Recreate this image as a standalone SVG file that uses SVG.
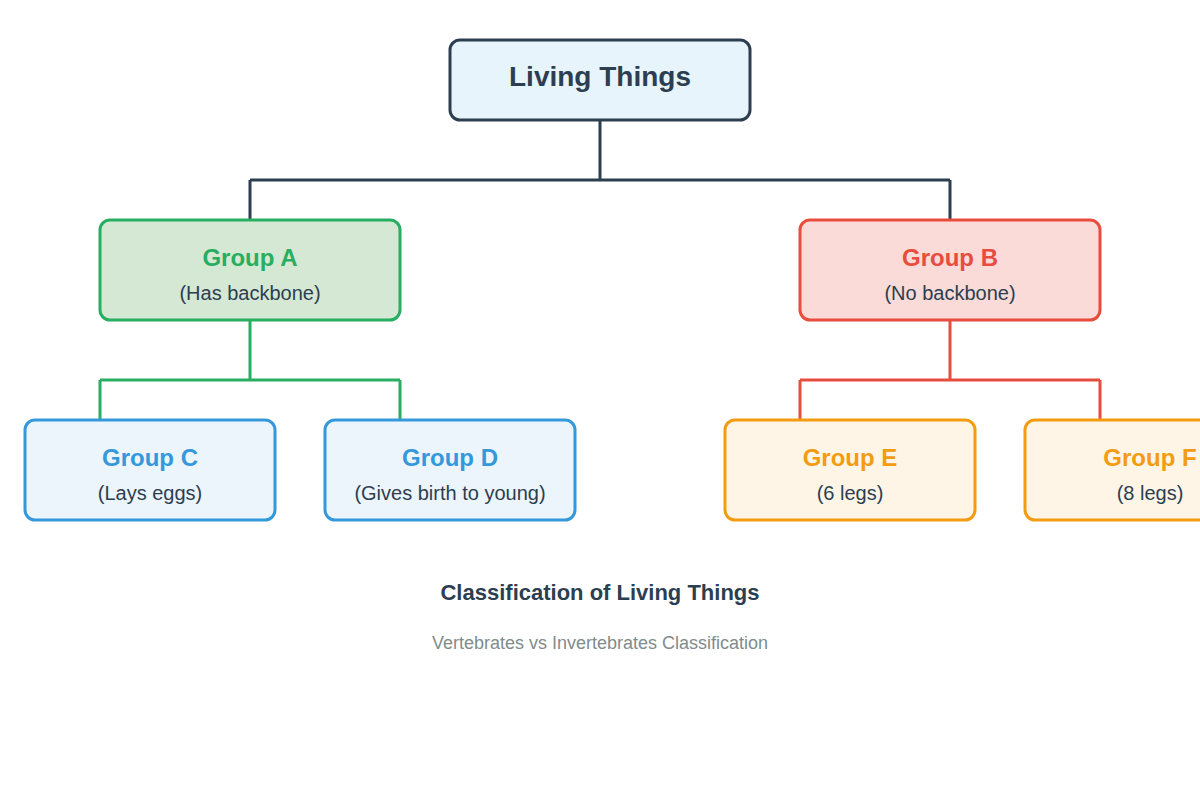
<svg xmlns="http://www.w3.org/2000/svg" width="1200" height="800" viewBox="0 0 1200 800">
<style>
text{font-family:"Liberation Sans",Arial,sans-serif;text-anchor:middle}
.box{stroke-width:3}
.t1{font-size:28px;font-weight:bold;fill:#2c3e50}
.t2{font-size:24px;font-weight:bold}
.sub{font-size:20px;fill:#2c3e50}
.conn{fill:none;stroke-width:3}
</style>
<rect width="1200" height="800" fill="#ffffff"/>
<g id="connectors">
<path class="conn" stroke="#2c3e50" d="M600 120V180M250 180H950M250 180V220M950 180V220"/>
<path class="conn" stroke="#27ae60" d="M250 320V380M100 380H400M100 380V420M400 380V420"/>
<path class="conn" stroke="#e74c3c" d="M950 320V380M800 380H1100M800 380V420M1100 380V420"/>
</g>
<g id="root">
<rect class="box" x="450" y="40" width="300" height="80" rx="10" fill="#e8f4fc" stroke="#2c3e50"/>
<text class="t1" x="600" y="86">Living Things</text>
</g>
<g id="groupA">
<rect class="box" x="100" y="220" width="300" height="100" rx="10" fill="#d5e8d4" stroke="#27ae60"/>
<text class="t2" x="250" y="266" fill="#27ae60">Group A</text>
<text class="sub" x="250" y="300">(Has backbone)</text>
</g>
<g id="groupB">
<rect class="box" x="800" y="220" width="300" height="100" rx="10" fill="#fadbd8" stroke="#e74c3c"/>
<text class="t2" x="950" y="266" fill="#e74c3c">Group B</text>
<text class="sub" x="950" y="300">(No backbone)</text>
</g>
<g id="groupC">
<rect class="box" x="25" y="420" width="250" height="100" rx="10" fill="#ebf5fb" stroke="#3498db"/>
<text class="t2" x="150" y="466" fill="#3498db">Group C</text>
<text class="sub" x="150" y="500">(Lays eggs)</text>
</g>
<g id="groupD">
<rect class="box" x="325" y="420" width="250" height="100" rx="10" fill="#ebf5fb" stroke="#3498db"/>
<text class="t2" x="450" y="466" fill="#3498db">Group D</text>
<text class="sub" x="450" y="500">(Gives birth to young)</text>
</g>
<g id="groupE">
<rect class="box" x="725" y="420" width="250" height="100" rx="10" fill="#fef5e7" stroke="#f39c12"/>
<text class="t2" x="850" y="466" fill="#f39c12">Group E</text>
<text class="sub" x="850" y="500">(6 legs)</text>
</g>
<g id="groupF">
<rect class="box" x="1025" y="420" width="250" height="100" rx="10" fill="#fef5e7" stroke="#f39c12"/>
<text class="t2" x="1150" y="466" fill="#f39c12">Group F</text>
<text class="sub" x="1150" y="500">(8 legs)</text>
</g>
<g id="caption">
<text x="600" y="600" font-size="22" font-weight="bold" fill="#2c3e50">Classification of Living Things</text>
<text x="600" y="649" font-size="18" fill="#7f8c8d">Vertebrates vs Invertebrates Classification</text>
</g>
</svg>
